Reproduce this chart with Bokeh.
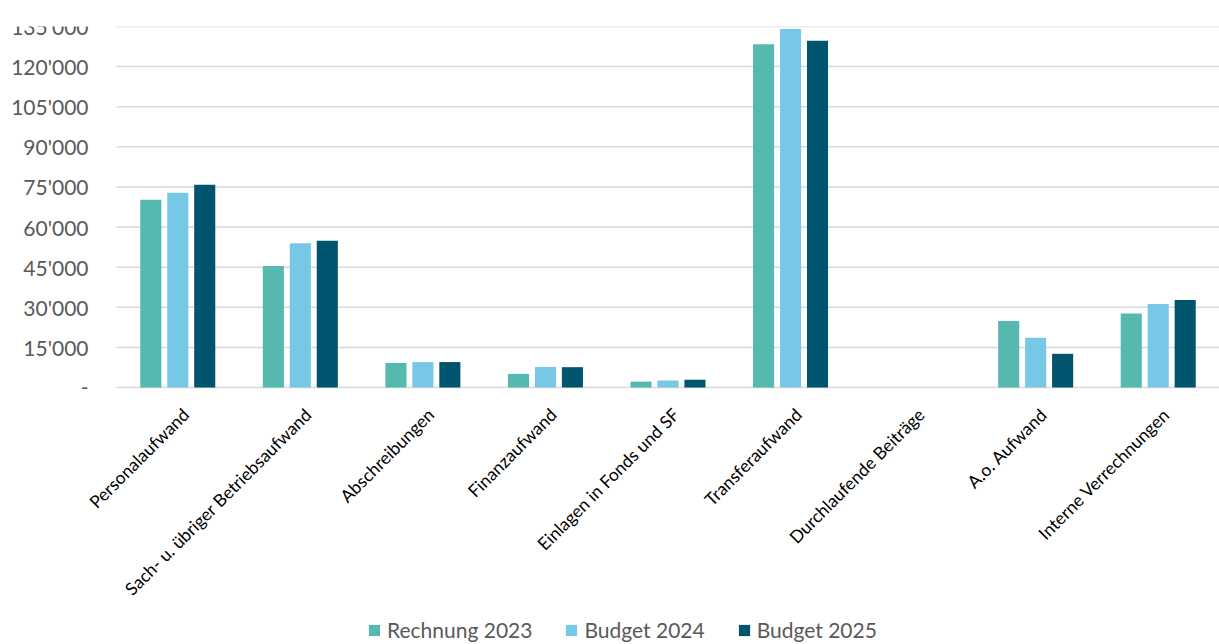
from math import pi
from bokeh.plotting import figure
from bokeh.models import ColumnDataSource, Legend, LegendItem, Range1d
from bokeh.transform import dodge
from bokeh.core.properties import value
from bokeh.embed import file_html
from bokeh.resources import INLINE

categories = ["Personalaufwand", "Sach- u. übriger Betriebsaufwand", "Abschreibungen",
              "Finanzaufwand", "Einlagen in Fonds und SF", "Transferaufwand",
              "Durchlaufende Beiträge", "A.o. Aufwand", "Interne Verrechnungen"]
rechnung_2023 = [70200, 45400, 9200, 5100, 2200, 128400, 0, 24900, 27700]
budget_2024 = [72800, 53900, 9500, 7700, 2600, 134100, 0, 18600, 31200]
budget_2025 = [75800, 54900, 9500, 7600, 2900, 129700, 0, 12600, 32700]
series_names = ["Rechnung 2023", "Budget 2024", "Budget 2025"]
series_colors = ["#56B9B0", "#76C8E6", "#00546E"]
y_ticks = [0, 15000, 30000, 45000, 60000, 75000, 90000, 105000, 120000, 135000]
y_tick_labels = ["-", "15'000", "30'000", "45'000", "60'000", "75'000",
                 "90'000", "105'000", "120'000", "135'000"]

FONT = "Lato"
n = len(categories)
ymax = y_ticks[-1]

# layout: plot area 116..1219 px wide, 26..387 px high; extra room below for labels & legend
cat_px = 1103 / n
x_range = Range1d(-116 / cat_px, n)
y_range = Range1d(-ymax * 257 / 361, ymax)

source = ColumnDataSource(dict(cat=categories, pos=[i + 0.5 for i in range(n)],
                               zero=[0] * n, r23=rechnung_2023,
                               b24=budget_2024, b25=budget_2025))
tick_source = ColumnDataSource(dict(y=y_ticks, label=y_tick_labels))

p = figure(x_range=x_range, y_range=y_range,
           frame_width=1219, frame_height=618,
           x_axis_location=None, y_axis_location=None,
           output_backend="svg", toolbar_location=None,
           min_border_left=0, min_border_right=0, min_border_top=26,
           min_border_bottom=0)
p.outline_line_color = None
p.grid.visible = False
p.background_fill_color = "white"
p.border_fill_color = "white"

# horizontal gridlines (incl. baseline) across the category area
p.segment(x0=0, x1=n, y0="y", y1="y", source=tick_source,
          line_color="#D9D9D9", line_width=1.5)

# y tick labels
p.text(x=0, y="y", text="label", source=tick_source, x_offset=-28,
       text_align="right", text_baseline="middle",
       text_font=value(FONT), text_font_size="21px", text_color="#595959")

cols = ["r23", "b24", "b25"]
offsets = [-0.22, 0.0, 0.22]
renderers = []
for col, off, color in zip(cols, offsets, series_colors):
    r = p.vbar(x=dodge("pos", off), top=col, width=0.172,
               source=source, fill_color=color, line_color=None)
    renderers.append(r)

# category labels, rotated 45 degrees under the baseline
p.text(x="pos", y="zero", text="cat", source=source, angle=pi / 4,
       x_offset=8, y_offset=24, text_align="right", text_baseline="middle",
       text_font=value(FONT), text_font_size="17.5px", text_color="#000000")

legend = Legend(items=[LegendItem(label=s, renderers=[r]) for s, r in zip(series_names, renderers)],
                orientation="horizontal", location=(367, 2),
                label_text_font=FONT, label_text_font_size="21px",
                label_text_color="#595959", glyph_width=14, glyph_height=14,
                label_standoff=6, spacing=32, padding=0, margin=0,
                border_line_color=None, background_fill_alpha=0)
p.add_layout(legend, "center")

open("out.html", "w").write(file_html(p, INLINE))
